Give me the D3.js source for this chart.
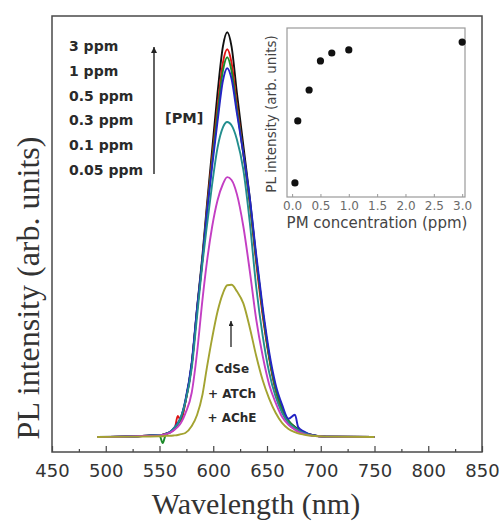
<!DOCTYPE html>
<html>
<head>
<meta charset="utf-8">
<script src="https://cdn.jsdelivr.net/npm/d3@7"></script>
<style>
  html, body { margin: 0; padding: 0; background: #ffffff; }
  svg { display: block; }
</style>
</head>
<body>
<svg id="chart" width="499" height="522"></svg>
<script>
// ---------------- DATA ----------------
const wavelength = [492, 530, 550, 553, 556, 560, 564, 567, 570, 574, 580, 585, 590, 594, 599, 604, 609, 613, 617, 622, 628, 634, 640, 646, 652, 658, 664, 670, 676, 679, 684, 692, 705, 750];

const pl_3ppm    = [0, 0.002, 0.005, 0.006, 0.008, 0.012, 0.022, 0.032, 0.045, 0.085, 0.18, 0.32, 0.45, 0.57, 0.71, 0.85, 0.965, 1.00, 0.965, 0.85, 0.72, 0.59, 0.44, 0.31, 0.20, 0.12, 0.07, 0.04, 0.025, 0.02, 0.012, 0.005, 0.001, 0];
const pl_1ppm    = [0, 0.002, 0.005, 0.006, 0.008, 0.012, 0.020, 0.052, 0.040, 0.085, 0.18, 0.315, 0.44, 0.56, 0.69, 0.815, 0.925, 0.958, 0.925, 0.82, 0.70, 0.575, 0.43, 0.30, 0.195, 0.115, 0.065, 0.035, 0.02, 0.015, 0.01, 0.004, 0.001, 0];
const pl_05ppm   = [0, 0.002, 0.004, -0.015, 0.007, 0.012, 0.022, 0.032, 0.047, 0.088, 0.18, 0.315, 0.44, 0.555, 0.68, 0.80, 0.905, 0.938, 0.905, 0.81, 0.70, 0.58, 0.44, 0.31, 0.20, 0.12, 0.07, 0.04, 0.024, 0.018, 0.011, 0.004, 0.001, 0];
const pl_03ppm   = [0, 0.002, 0.005, 0.004, 0.008, 0.013, 0.024, 0.035, 0.05, 0.09, 0.185, 0.32, 0.44, 0.55, 0.67, 0.78, 0.88, 0.911, 0.885, 0.80, 0.70, 0.59, 0.45, 0.32, 0.21, 0.13, 0.08, 0.045, 0.055, 0.025, 0.014, 0.005, 0.001, 0];
const pl_01ppm   = [0, 0.002, 0.005, 0.006, 0.008, 0.013, 0.024, 0.033, 0.05, 0.085, 0.17, 0.30, 0.43, 0.52, 0.625, 0.715, 0.765, 0.778, 0.77, 0.735, 0.66, 0.53, 0.37, 0.25, 0.16, 0.10, 0.06, 0.035, 0.022, 0.017, 0.01, 0.004, 0.001, 0];
const pl_005ppm  = [0, 0.002, 0.004, 0.005, 0.007, 0.011, 0.018, 0.025, 0.035, 0.058, 0.11, 0.21, 0.34, 0.43, 0.52, 0.585, 0.625, 0.642, 0.635, 0.60, 0.52, 0.41, 0.29, 0.20, 0.13, 0.085, 0.05, 0.03, 0.018, 0.013, 0.008, 0.003, 0.001, 0];
const pl_control = [0, 0.001, 0.002, 0.002, 0.003, 0.003, 0.004, 0.005, 0.007, 0.01, 0.027, 0.055, 0.105, 0.17, 0.245, 0.31, 0.355, 0.375, 0.376, 0.36, 0.33, 0.27, 0.20, 0.14, 0.095, 0.06, 0.035, 0.02, 0.012, 0.009, 0.006, 0.003, 0.001, 0];

const seriesNames  = ["3 ppm", "1 ppm", "0.5 ppm", "0.3 ppm", "0.1 ppm", "0.05 ppm", "CdSe + ATCh + AChE"];
const seriesValues = [pl_3ppm, pl_1ppm, pl_05ppm, pl_03ppm, pl_01ppm, pl_005ppm, pl_control];
const seriesColors = ["#111111", "#e01414", "#1c8a2a", "#2424c4", "#238e8e", "#c33ec3", "#a3a331"];

const xTicks = [450, 500, 550, 600, 650, 700, 750, 800, 850];
const xMinorTicks = [475, 525, 575, 625, 675, 725, 775, 825];

const legendLabels = ["3 ppm", "1 ppm", "0.5 ppm", "0.3 ppm", "0.1 ppm", "0.05 ppm"];

// inset
const insetConc = [0.05, 0.1, 0.3, 0.5, 0.7, 1.0, 3.0];
const insetPL   = [0.083, 0.45, 0.633, 0.805, 0.852, 0.870, 0.917];
const insetTicks = [0, 0.5, 1.0, 1.5, 2.0, 2.5, 3.0];

// ---------------- DRAW ----------------
const svg = d3.select("#chart");
const sans = "'DejaVu Sans', sans-serif";
const serif = "'Liberation Serif', 'Times New Roman', serif";

const x = d3.scaleLinear().domain([450, 850]).range([52, 482]);
const y = d3.scaleLinear().domain([-0.037, 1.04]).range([452, 16]);

// curves
const line = d3.line()
  .x((d, i) => x(wavelength[i]))
  .y(d => y(d))
  .curve(d3.curveMonotoneX);

const curves = svg.append("g");
seriesValues.forEach((vals, k) => {
  curves.append("path")
    .datum(vals)
    .attr("d", line)
    .attr("fill", "none")
    .attr("stroke", seriesColors[k])
    .attr("stroke-width", 1.9)
    .attr("stroke-linejoin", "round");
});

// main axes ticks
const axisMajor = d3.axisBottom(x).tickValues(xTicks).tickSize(-6).tickPadding(12).tickFormat(d3.format("d"));
const gx = svg.append("g").attr("transform", `translate(0,${y.range()[0]})`).call(axisMajor);
gx.select(".domain").remove();
gx.selectAll(".tick line").attr("stroke", "#444").attr("stroke-width", 1.2);
gx.selectAll(".tick text").attr("font-family", sans).attr("font-size", 18).attr("fill", "#333");

const axisMinor = d3.axisBottom(x).tickValues(xMinorTicks).tickSize(-3).tickFormat("");
const gxm = svg.append("g").attr("transform", `translate(0,${y.range()[0]})`).call(axisMinor);
gxm.select(".domain").remove();
gxm.selectAll(".tick line").attr("stroke", "#444").attr("stroke-width", 1.2);

// frame
svg.append("rect")
  .attr("x", x.range()[0]).attr("y", y.range()[1])
  .attr("width", x.range()[1] - x.range()[0])
  .attr("height", y.range()[0] - y.range()[1])
  .attr("fill", "none").attr("stroke", "#4a4a4a").attr("stroke-width", 1.5);

// axis titles
svg.append("text")
  .attr("x", 256).attr("y", 514)
  .attr("text-anchor", "middle")
  .attr("font-family", serif).attr("font-size", 30).attr("fill", "#333")
  .text("Wavelength (nm)");

svg.append("text")
  .attr("transform", "translate(39,288) rotate(-90)")
  .attr("text-anchor", "middle")
  .attr("font-family", serif).attr("font-size", 32).attr("fill", "#333")
  .text("PL intensity (arb. units)");

// legend text list
legendLabels.forEach((t, i) => {
  svg.append("text")
    .attr("x", 69).attr("y", 51 + i * 24.8)
    .attr("font-family", sans).attr("font-weight", "bold").attr("font-size", 14)
    .attr("fill", "#2a2a2a")
    .text(t);
});

// arrow markers
const defs = svg.append("defs");
defs.append("marker")
  .attr("id", "ah").attr("viewBox", "0 0 10 10")
  .attr("refX", 10).attr("refY", 5)
  .attr("markerWidth", 6).attr("markerHeight", 7)
  .attr("markerUnits", "userSpaceOnUse")
  .attr("orient", "auto")
  .append("path").attr("d", "M0,0 L10,5 L0,10 z").attr("fill", "#222");
defs.append("marker")
  .attr("id", "ah2").attr("viewBox", "0 0 10 10")
  .attr("refX", 10).attr("refY", 5)
  .attr("markerWidth", 8).attr("markerHeight", 5)
  .attr("markerUnits", "userSpaceOnUse")
  .attr("orient", "auto")
  .append("path").attr("d", "M0,0 L10,5 L0,10 z").attr("fill", "#222");

svg.append("line")
  .attr("x1", 154).attr("y1", 174).attr("x2", 154).attr("y2", 47)
  .attr("stroke", "#222").attr("stroke-width", 1.4)
  .attr("marker-end", "url(#ah)");

svg.append("text")
  .attr("x", 165).attr("y", 123)
  .attr("font-family", sans).attr("font-weight", "bold").attr("font-size", 14.5)
  .attr("fill", "#2a2a2a")
  .text("[PM]");

// small arrow + control annotation
svg.append("line")
  .attr("x1", 231).attr("y1", 347).attr("x2", 231).attr("y2", 321)
  .attr("stroke", "#222").attr("stroke-width", 1.3)
  .attr("marker-end", "url(#ah2)");

const ann = ["CdSe", "+ ATCh", "+ AChE"];
const annY = [373, 398, 422];
ann.forEach((t, i) => {
  svg.append("text")
    .attr("x", 232).attr("y", annY[i])
    .attr("text-anchor", "middle")
    .attr("font-family", sans).attr("font-weight", "bold").attr("font-size", 12)
    .attr("fill", "#2a2a2a")
    .text(t);
});

// ---------------- INSET ----------------
const ix = d3.scaleLinear().domain([-0.09, 3.05]).range([287, 465]);
const iy = d3.scaleLinear().domain([0, 1]).range([197, 28]);

svg.append("rect")
  .attr("x", ix.range()[0]).attr("y", iy.range()[1])
  .attr("width", ix.range()[1] - ix.range()[0])
  .attr("height", iy.range()[0] - iy.range()[1])
  .attr("fill", "#ffffff").attr("stroke", "#9a9a9a").attr("stroke-width", 1.2);

const iaxis = d3.axisBottom(ix).tickValues(insetTicks).tickSize(-3).tickPadding(4).tickFormat(d3.format(".1f"));
const gi = svg.append("g").attr("transform", `translate(0,${iy.range()[0]})`).call(iaxis);
gi.select(".domain").remove();
gi.selectAll(".tick line").attr("stroke", "#999");
gi.selectAll(".tick text").attr("font-family", sans).attr("font-size", 12).attr("fill", "#6a6a6a");

svg.append("g").selectAll("circle")
  .data(insetConc)
  .join("circle")
  .attr("cx", d => ix(d))
  .attr("cy", (d, i) => iy(insetPL[i]))
  .attr("r", 3.6)
  .attr("fill", "#111");

svg.append("text")
  .attr("x", 377).attr("y", 228)
  .attr("text-anchor", "middle")
  .attr("font-family", sans).attr("font-size", 15).attr("fill", "#444")
  .text("PM concentration (ppm)");

svg.append("text")
  .attr("transform", "translate(276,114) rotate(-90)")
  .attr("text-anchor", "middle")
  .attr("font-family", sans).attr("font-size", 13.5).attr("fill", "#444")
  .text("PL intensity (arb. units)");
</script>
</body>
</html>
